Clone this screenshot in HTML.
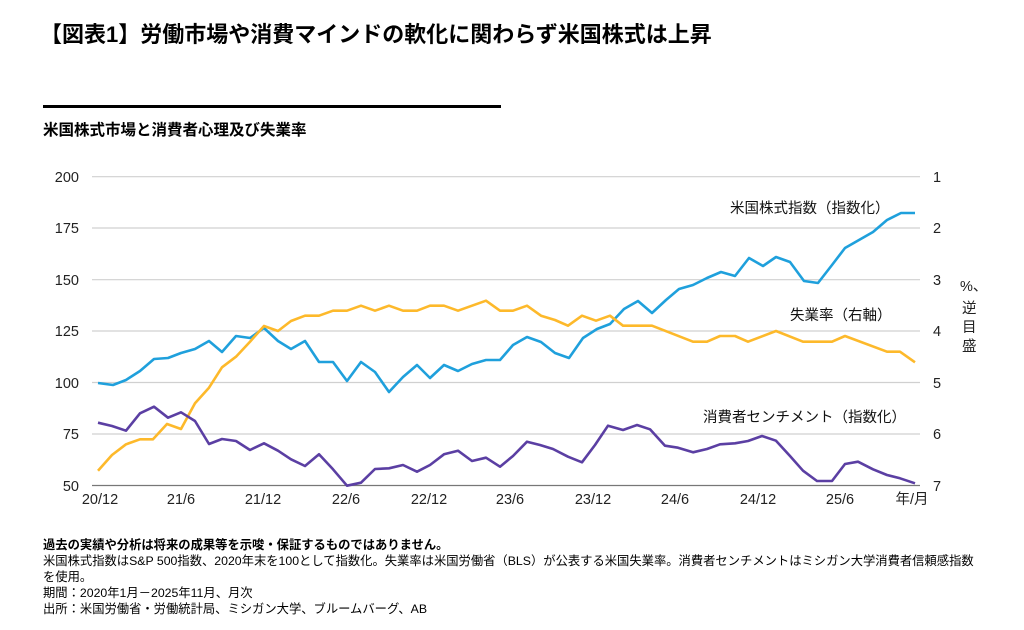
<!DOCTYPE html>
<html><head><meta charset="utf-8"><style>
body{margin:0;background:#fff;width:1024px;height:630px;overflow:hidden;font-family:"Liberation Sans","Noto Sans CJK JP",sans-serif;color:#000}
.t{position:absolute;white-space:nowrap}
</style></head><body>
<div class="t" style="left:40px;top:17px;font-size:22px;font-weight:bold">【図表1】労働市場や消費マインドの軟化に関わらず米国株式は上昇</div>
<div style="position:absolute;left:43px;top:105px;width:458px;height:3px;background:#000"></div>
<div class="t" style="left:43px;top:118px;font-size:15.5px;font-weight:bold">米国株式市場と消費者心理及び失業率</div>
<svg width="1024" height="630" style="position:absolute;left:0;top:0" font-family="Liberation Sans, Noto Sans CJK JP, sans-serif">
<g stroke="#d0d0d0" stroke-width="1.2">
<line x1="92" x2="920" y1="176.7" y2="176.7"/><line x1="92" x2="920" y1="228" y2="228"/><line x1="92" x2="920" y1="279.7" y2="279.7"/><line x1="92" x2="920" y1="331" y2="331"/><line x1="92" x2="920" y1="382.5" y2="382.5"/><line x1="92" x2="920" y1="434" y2="434"/></g>
<line x1="92" x2="920" y1="485.5" y2="485.5" stroke="#777" stroke-width="1.2"/>
<g font-size="14.5" text-anchor="end" fill="#222">
<text x="79" y="182">200</text><text x="79" y="233">175</text><text x="79" y="285">150</text><text x="79" y="336">125</text><text x="79" y="388">100</text><text x="79" y="439">75</text><text x="79" y="491">50</text></g>
<g font-size="14.5" fill="#222">
<text x="933" y="182">1</text><text x="933" y="233">2</text><text x="933" y="285">3</text><text x="933" y="336">4</text><text x="933" y="388">5</text><text x="933" y="439">6</text><text x="933" y="491">7</text></g>
<g font-size="14.5" text-anchor="middle" fill="#222">
<text x="100" y="504">20/12</text><text x="181" y="504">21/6</text><text x="263" y="504">21/12</text><text x="346" y="504">22/6</text><text x="429" y="504">22/12</text><text x="510" y="504">23/6</text><text x="593" y="504">23/12</text><text x="675" y="504">24/6</text><text x="758" y="504">24/12</text><text x="840" y="504">25/6</text><text x="912" y="504">年/月</text></g>
<g font-size="14.5" fill="#222">
<text x="960" y="291">%、</text>
<text x="962" y="313">逆</text><text x="962" y="332">目</text><text x="962" y="351">盛</text></g>
<g fill="none" stroke-width="2.6" stroke-linejoin="round">
<polyline stroke="#1fa0dc" points="98,383 113,385 126,380 140,371 154,359 168,358 181,353 195,349 209,341 222,352 236,336 250,338 264,328 278,341 291,349 305,341 319,362 333,362 347,381 361,362 375,372 389,392 403,377 417,365 430,378 444,365 458,371 472,364 486,360 500,360 513,345 527,337 541,342 555,353 569,358 583,338 597,329 610,324 624,309 638,301 652,313 666,300 679,289 693,285 707,278 721,272 735,276 749,258 763,266 776,257 790,262 804,281 818,283 832,265 845,248 859,240 873,232 887,220 901,213 915,213"/>
<polyline stroke="#fdb92b" points="98,470.7 112,455 126,444.3 140,439.3 153,439.3 167,424 181,429 195,403.3 209,387.7 222,367.3 236,356.7 250,341.7 264,326 278,331 291,321 305,315.7 319,315.7 333,310.7 347,310.7 361,305.7 375,310.7 389,305.7 403,310.7 417,310.7 430,305.7 444,305.7 458,310.7 472,305.7 486,300.7 500,310.7 513,310.7 527,305.7 541,315.7 555,320 568,325.7 582,315.7 596,320.7 610,315.7 623,325.7 652,325.7 693,341.7 707,341.7 720,336 735,336 748,341.7 776,331 803,341.7 832,341.7 845,336 887,351.7 900,351.7 915,362.3"/>
<polyline stroke="#5b3fa3" points="98,422.7 112,426 126,430.7 140,413.3 154,406.7 168,417.7 181,412.3 195,421 209,444 222,439 236,441 250,450 264,443.3 278,450.7 291,459.3 305,466 319,454.3 333,469.3 347,485.7 361,482.7 375,469 389,468.3 403,465 417,471.7 430,465 444,454.3 458,450.7 472,461 486,457.7 500,466.7 513,456 527,441.7 540,445 553,449 568,456.7 582,462.3 595,445 608,425.7 623,430 637,425 650,429.3 665,445.7 678,447.7 693,452.3 707,449 720,444.3 735,443.3 748,441 762,436 776,440.7 790,456 803,470.7 817,481 832,481 845,464 858,461.7 873,469.3 887,475 900,478.3 915,483.3"/>
</g>
<g font-size="14.5" fill="#111">
<text x="730" y="213">米国株式指数（指数化）</text>
<text x="790" y="320">失業率（右軸）</text>
<text x="703" y="422">消費者センチメント（指数化）</text></g>
</svg>
<div class="t" style="left:43px;top:537px;font-size:12.3px;line-height:16px;white-space:normal;width:970px">
<b>過去の実績や分析は将来の成果等を示唆・保証するものではありません。</b><br>
米国株式指数はS&amp;P 500指数、2020年末を100として指数化。失業率は米国労働省（BLS）が公表する米国失業率。消費者センチメントはミシガン大学消費者信頼感指数<br>を使用。<br>
期間：2020年1月－2025年11月、月次<br>
出所：米国労働省・労働統計局、ミシガン大学、ブルームバーグ、AB</div>
</body></html>
